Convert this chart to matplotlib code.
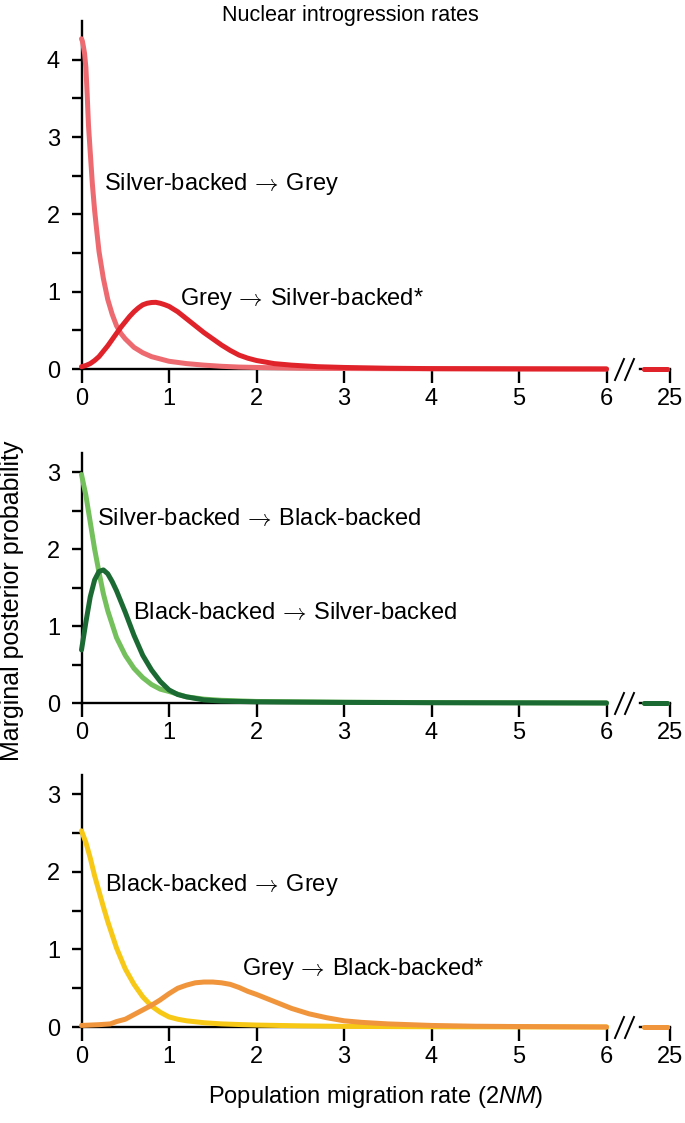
import matplotlib
matplotlib.use("Agg")
import matplotlib.pyplot as plt
from matplotlib.lines import Line2D

plt.rcParams['font.family'] = ['Liberation Sans', 'DejaVu Sans']
plt.rcParams['mathtext.fontset'] = 'custom'
plt.rcParams['mathtext.rm'] = 'Liberation Sans'
plt.rcParams['mathtext.it'] = 'Liberation Sans:italic'

# ---------------- data ----------------
# Panel 1: nuclear, Silver-backed <-> Grey
sg_x = [0, 0.01, 0.02, 0.035, 0.05, 0.065, 0.08, 0.1, 0.125, 0.15, 0.175, 0.2, 0.25, 0.3, 0.35,
        0.4, 0.45, 0.5, 0.6, 0.7, 0.8, 0.9, 1.0, 1.2, 1.4, 1.6, 1.8, 2.0, 2.5, 3.0, 4.0, 5.0, 6.0]
sg_y = [4.27, 4.24, 4.18, 4.08, 3.90, 3.55, 3.15, 2.80, 2.38, 2.05, 1.78, 1.52, 1.17, 0.90, 0.71,
        0.56, 0.46, 0.39, 0.28, 0.21, 0.16, 0.13, 0.10, 0.07, 0.05, 0.035, 0.025, 0.02, 0.01,
        0.006, 0.003, 0.001, 0.0]
gs_x = [0, 0.05, 0.1, 0.15, 0.2, 0.25, 0.3, 0.35, 0.4, 0.45, 0.5, 0.55, 0.6, 0.65, 0.7, 0.75,
        0.8, 0.85, 0.9, 0.95, 1.0, 1.1, 1.2, 1.3, 1.4, 1.5, 1.6, 1.7, 1.8, 1.9, 2.0, 2.2, 2.4,
        2.7, 3.0, 3.5, 4.0, 5.0, 6.0]
gs_y = [0.03, 0.045, 0.07, 0.11, 0.16, 0.23, 0.30, 0.38, 0.46, 0.54, 0.61, 0.68, 0.74, 0.79,
        0.83, 0.85, 0.86, 0.862, 0.85, 0.832, 0.81, 0.74, 0.65, 0.56, 0.47, 0.39, 0.31, 0.24,
        0.18, 0.14, 0.11, 0.07, 0.05, 0.03, 0.02, 0.01, 0.005, 0.002, 0.0]

# Panel 2: Silver-backed <-> Black-backed
sb_x = [0, 0.05, 0.1, 0.15, 0.2, 0.25, 0.3, 0.4, 0.5, 0.6, 0.7, 0.8, 0.9, 1.0, 1.2, 1.4,
        1.6, 2.0, 3.0, 4.0, 6.0]
sb_y = [2.97, 2.70, 2.35, 2.00, 1.70, 1.42, 1.20, 0.85, 0.62, 0.45, 0.33, 0.24, 0.18, 0.15,
        0.08, 0.05, 0.035, 0.02, 0.01, 0.005, 0.0]
bs_x = [0, 0.05, 0.1, 0.15, 0.2, 0.25, 0.3, 0.35, 0.4, 0.5, 0.6, 0.7, 0.8, 0.9, 1.0, 1.1,
        1.2, 1.4, 1.6, 2.0, 3.0, 4.0, 6.0]
bs_y = [0.69, 1.05, 1.38, 1.60, 1.71, 1.73, 1.68, 1.58, 1.46, 1.18, 0.88, 0.62, 0.43, 0.28,
        0.17, 0.11, 0.08, 0.04, 0.025, 0.015, 0.008, 0.004, 0.0]

# Panel 3: Black-backed <-> Grey
bg_x = [0, 0.05, 0.1, 0.15, 0.2, 0.25, 0.3, 0.4, 0.5, 0.6, 0.7, 0.8, 0.9, 1.0, 1.1, 1.2,
        1.4, 1.6, 1.8, 2.0, 2.5, 3.0, 4.0, 6.0]
bg_y = [2.53, 2.38, 2.18, 1.95, 1.75, 1.55, 1.36, 1.02, 0.75, 0.55, 0.39, 0.27, 0.19, 0.13,
        0.10, 0.08, 0.055, 0.04, 0.032, 0.025, 0.015, 0.008, 0.003, 0.0]
gb_x = [0, 0.2, 0.33, 0.4, 0.5, 0.6, 0.7, 0.8, 0.9, 1.0, 1.1, 1.2, 1.3, 1.4, 1.5, 1.6, 1.7,
        1.8, 1.9, 2.0, 2.2, 2.4, 2.6, 2.8, 3.0, 3.2, 3.5, 4.0, 4.5, 5.0, 6.0]
gb_y = [0.02, 0.03, 0.04, 0.07, 0.10, 0.16, 0.22, 0.28, 0.35, 0.43, 0.50, 0.54, 0.57, 0.58,
        0.58, 0.57, 0.55, 0.51, 0.46, 0.42, 0.33, 0.24, 0.17, 0.12, 0.08, 0.06, 0.04, 0.02,
        0.01, 0.006, 0.0]

# tail beyond the axis break (x around 25)
tail_x = [24.7, 24.97]
tail_y = [0.0, 0.0]

main_ticks = [0, 1, 2, 3, 4, 5, 6]
tail_ticks = [25]

ARROW = '$\\,\\rightarrow\\,$'
panels = [
    dict(curves=[(sg_x, sg_y, '#EC6A70', 'Silver-backed' + ARROW + 'Grey', (0.26, 2.32)),
                 (gs_x, gs_y, '#E0232B', 'Grey' + ARROW + 'Silver-backed*', (1.13, 0.83))],
         ymax=4.5, yticks=[0, 1, 2, 3, 4], top=21, bottom=369),
    dict(curves=[(sb_x, sb_y, '#74C05C', 'Silver-backed' + ARROW + 'Black-backed', (0.175, 2.31)),
                 (bs_x, bs_y, '#1C6A33', 'Black-backed' + ARROW + 'Silver-backed', (0.59, 1.09))],
         ymax=3.25, yticks=[0, 1, 2, 3], top=453, bottom=703),
    dict(curves=[(bg_x, bg_y, '#F7C816', 'Black-backed' + ARROW + 'Grey', (0.27, 1.76)),
                 (gb_x, gb_y, '#F0953B', 'Grey' + ARROW + 'Black-backed*', (1.84, 0.67))],
         ymax=3.25, yticks=[0, 1, 2, 3], top=775, bottom=1027),
]

W, H = 685, 1123
fig = plt.figure(figsize=(W / 100, H / 100), dpi=100)

def px_axes(left, right, top, bottom):
    return fig.add_axes([left / W, 1 - bottom / H, (right - left) / W, (bottom - top) / H])

SP_LW = 1.7
LW = 3.6
TFS = 17
LFS = 17

for p in panels:
    ax = px_axes(81.5, 606.5, p['top'], p['bottom'])
    ax2 = px_axes(640, 670, p['top'], p['bottom'])
    for a in (ax, ax2):
        a.set_ylim(0, p['ymax'])
        for s in ('top', 'right'):
            a.spines[s].set_visible(False)
        a.spines['bottom'].set_linewidth(SP_LW)
        a.spines['left'].set_linewidth(SP_LW)
        a.patch.set_alpha(0)
    ax.set_xlim(0, 6)
    ax2.set_xlim(24.66, 25)
    ax2.spines['left'].set_visible(False)
    ax2.set_yticks([])

    ax.set_xticks(main_ticks)
    ax.set_xticklabels([str(t) for t in main_ticks])
    ax2.set_xticks(tail_ticks)
    ax2.set_xticklabels([str(t) for t in tail_ticks])
    for a in (ax, ax2):
        a.tick_params(axis='x', direction='out', length=10, width=SP_LW, pad=4, labelsize=TFS)
    ax.set_yticks(p['yticks'])
    ax.set_yticks([v + 0.5 for v in p['yticks'][:-1]], minor=True)
    ax.tick_params(axis='y', which='both', direction='out', length=7.5, width=SP_LW,
                   pad=8, labelsize=TFS)

    for (xs, ys, col, lab, (tx, ty)) in p['curves']:
        ax.plot(xs, ys, color=col, lw=LW, solid_capstyle='round', solid_joinstyle='round',
                clip_on=False, zorder=3)
        ax2.plot(tail_x, tail_y, color=col, lw=LW, solid_capstyle='round', clip_on=False, zorder=3)
        ax.text(tx, ty, lab, fontsize=LFS, ha='left', va='baseline', color='black',
                math_fontfamily='cm')

    # axis-break marks
    y0 = p['bottom']
    for x1 in (615, 625):
        fig.add_artist(Line2D([x1 / W, (x1 + 9) / W], [1 - (y0 + 11) / H, 1 - (y0 - 10) / H],
                              color='black', lw=1.4))

fig.text(222 / W, 1 - 21 / H, 'Nuclear introgression rates', ha='left', va='baseline',
         fontsize=15.5)
fig.text(12 / W, 1 - 601 / H, 'Marginal posterior probability', rotation=90,
         ha='center', va='center', fontsize=18)
fig.text(376 / W, 1 - 1097 / H, 'Population migration rate (2$\\mathit{NM}$)',
         ha='center', va='center', fontsize=17)

fig.savefig('out.png', dpi=100)
